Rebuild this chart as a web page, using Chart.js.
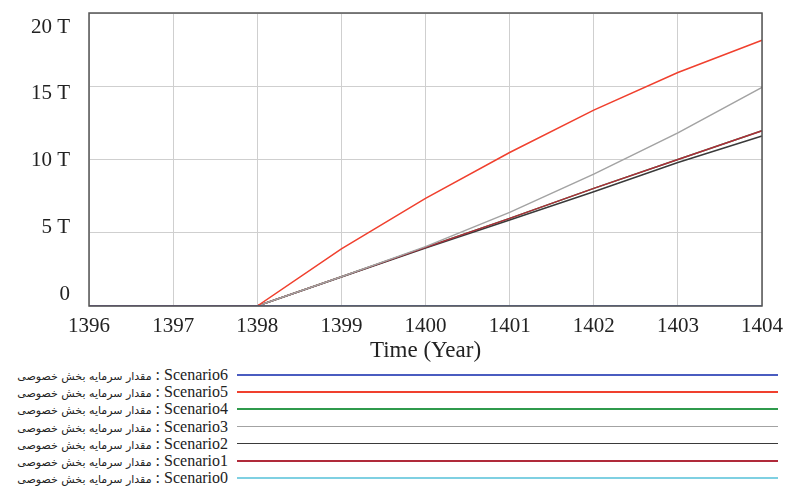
<!DOCTYPE html>
<html><head><meta charset="utf-8">
<script src="https://cdn.jsdelivr.net/npm/chart.js@4/dist/chart.umd.min.js"></script>
<style>
html,body{margin:0;padding:0;background:#fff;width:785px;height:487px;overflow:hidden;}
#wrap{position:absolute;left:0;top:0;width:785px;height:365px;}
#legend{position:absolute;left:0;top:366px;width:785px;}
.row{position:absolute;left:0;width:785px;height:17px;}
.lbl{position:absolute;right:557px;top:0;line-height:17px;font-family:"Liberation Serif","DejaVu Serif",serif;font-size:16px;color:#222;white-space:nowrap;direction:ltr;}
.lbl .fa{font-family:"DejaVu Sans",sans-serif;font-size:11px;}
.ln{position:absolute;left:237px;width:541px;top:8px;height:1.5px;}
</style></head>
<body>
<div id="wrap"><canvas id="c" width="785" height="365"></canvas></div>
<div id="legend"></div>
<script>
const years = ['1396','1397','1398','1399','1400','1401','1402','1403','1404'];
const scenario6 = [0,0,0,0,0,0,0,0,0];
const scenario5 = [0,0,0,3.9,7.35,10.48,13.37,15.94,18.14];
const scenario4 = [0,0,0,2.0,4.0,5.98,8.03,10.0,11.96];
const scenario3 = [0,0,0,2.0,4.05,6.39,9.0,11.82,14.92];
const scenario2 = [0,0,0,1.98,3.95,5.87,7.8,9.8,11.6];
const scenario1 = [0,0,0,2.0,4.0,5.98,8.03,10.0,11.96];
const scenario0 = [0,0,0,0,0,0,0,0,0];
const yTicks = [0,5,10,15,20];
const seriesName = 'مقدار سرمایه بخش خصوصی';

const series = [
  {name:'Scenario6', data:scenario6, color:'#4a5cc0', order:0},
  {name:'Scenario5', data:scenario5, color:'#f0402e', order:1},
  {name:'Scenario4', data:scenario4, color:'#2f9a4c', order:9},
  {name:'Scenario3', data:scenario3, color:'#a3a3a3', order:3},
  {name:'Scenario2', data:scenario2, color:'#3a3a3a', order:5},
  {name:'Scenario1', data:scenario1, color:'#b02a3a', order:4},
  {name:'Scenario0', data:scenario0, color:'#7fd0e2', order:8}
];

const boxPlugin = {
  id:'box',
  afterDraw(chart){
    const {ctx, chartArea:a} = chart;
    ctx.save();
    ctx.strokeStyle='#555';
    ctx.lineWidth=1.5;
    ctx.strokeRect(a.left, a.top, a.right-a.left, a.bottom-a.top);
    ctx.restore();
  }
};

const tickFont = {family:'Liberation Serif', size:21};

new Chart(document.getElementById('c'), {
  type:'line',
  data:{
    labels:years,
    datasets:series.map(s=>({label:s.name+' : '+seriesName, data:s.data, borderColor:s.color, backgroundColor:s.color, borderWidth:1.5, pointRadius:0, tension:0, fill:false, order:s.order}))
  },
  options:{
    animation:false, responsive:false, maintainAspectRatio:false,
    layout:{padding:{left:0,right:23,top:13,bottom:0}},
    plugins:{legend:{display:false}, tooltip:{enabled:false}},
    scales:{
      x:{
        grid:{color:'#cfcfcf', lineWidth:1, drawTicks:false},
        border:{display:false},
        ticks:{font:tickFont, color:'#222', padding:8, maxRotation:0, autoSkip:false},
        title:{display:true, text:'Time (Year)', font:{family:'Liberation Serif', size:23}, color:'#222', padding:{top:0,bottom:0}},
        afterFit(s){ s.height = 59; s.paddingLeft = 0; s.paddingRight = 0; }
      },
      y:{
        position:'left',
        min:0, max:20,
        afterBuildTicks(s){ s.ticks = yTicks.map(v=>({value:v})); },
        grid:{color:'#cfcfcf', lineWidth:1, drawTicks:false},
        border:{display:false},
        ticks:{display:false},
        afterFit(s){ s.width = 0; s.paddingTop = 0; s.paddingBottom = 0; }
      },
      yLabels:{
        type:'linear', position:'left',
        min:-0.9, max:21.05,
        afterBuildTicks(s){ s.ticks = yTicks.map(v=>({value:v})); },
        grid:{display:false, drawTicks:false},
        border:{display:false},
        ticks:{font:tickFont, color:'#222', padding:19,
          callback:v=> v===0 ? '0' : v+' T'},
        afterFit(s){ s.width = 89; s.paddingTop = 0; s.paddingBottom = 0; }
      }
    }
  },
  plugins:[boxPlugin]
});

const leg = document.getElementById('legend');
const rowTops = [0,17,34,51.5,68.5,86,103];
series.forEach((s,i)=>{
  const r = document.createElement('div');
  r.className='row';
  r.style.top = (rowTops[i]) + 'px';
  const l = document.createElement('span');
  l.className='lbl';
  const fa = document.createElement('span');
  fa.className='fa';
  fa.textContent = seriesName;
  l.appendChild(fa);
  l.appendChild(document.createTextNode(' : ' + s.name));
  const ln = document.createElement('div');
  ln.className='ln';
  ln.style.background = s.color;
  r.appendChild(l); r.appendChild(ln);
  leg.appendChild(r);
});
</script>
</body></html>
